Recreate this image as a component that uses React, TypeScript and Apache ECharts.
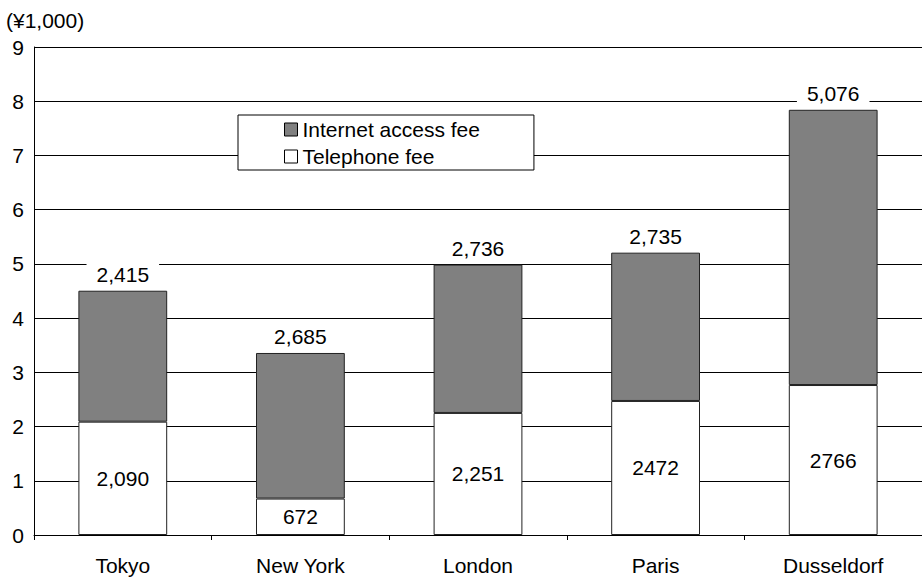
import React, { useEffect, useRef } from "react";
import * as echarts from "echarts";

const cities = ["Tokyo", "New York", "London", "Paris", "Dusseldorf"];
// Monthly fees in yen
const telephoneFee = [2090, 672, 2251, 2472, 2766];
const internetFee = [2415, 2685, 2736, 2735, 5076];
const telephoneLabels = ["2,090", "672", "2,251", "2472", "2766"];
const internetLabels = ["2,415", "2,685", "2,736", "2,735", "5,076"];
const yTicks = [0, 1, 2, 3, 4, 5, 6, 7, 8, 9];

const FONT = "'Liberation Sans', Arial, sans-serif";
const FS = 21;

export default function App() {
  const ref = useRef<HTMLDivElement>(null);
  useEffect(() => {
    if (!ref.current) return;
    const chart = echarts.init(ref.current, undefined, { renderer: "svg" });
    chart.setOption({
      animation: false,
      backgroundColor: "#fff",
      textStyle: { fontFamily: FONT, color: "#000" },
      graphic: [
        {
          type: "text",
          left: 6,
          top: 10,
          style: { text: "(¥1,000)", font: `${FS}px ${FONT}`, fill: "#000" },
        },
      ],
      legend: {
        orient: "vertical",
        left: 238,
        top: 115,
        backgroundColor: "#fff",
        borderColor: "#000",
        borderWidth: 1,
        borderRadius: 0,
        padding: [4, 54, 3, 46],
        itemGap: 6,
        itemWidth: 13,
        itemHeight: 13,
        icon: "rect",
        textStyle: { fontSize: FS, fontFamily: FONT, color: "#000" },
        data: [
          { name: "Internet access fee", itemStyle: { color: "#808080", borderColor: "#000", borderWidth: 1 } },
          { name: "Telephone fee", itemStyle: { color: "#fff", borderColor: "#000", borderWidth: 1 } },
        ],
      },
      grid: { left: 34, right: 0, top: 47, bottom: 45, containLabel: false },
      xAxis: {
        type: "category",
        data: cities,
        boundaryGap: true,
        axisLine: { lineStyle: { color: "#000", width: 1 } },
        axisTick: { show: true, length: 5, lineStyle: { color: "#000" } },
        axisLabel: { fontSize: FS, color: "#000", margin: 20, fontFamily: FONT },
      },
      yAxis: {
        type: "value",
        min: yTicks[0],
        max: yTicks[yTicks.length - 1],
        interval: 1,
        axisLine: { show: true, lineStyle: { color: "#000", width: 1 } },
        axisTick: { show: false },
        axisLabel: { fontSize: FS, color: "#000", margin: 10, fontFamily: FONT },
        splitLine: { lineStyle: { color: "#000", width: 1 } },
      },
      series: [
        {
          name: "Telephone fee",
          type: "bar",
          stack: "fee",
          barWidth: "50%",
          data: telephoneFee.map((v) => v / 1000),
          itemStyle: { color: "#fff", borderColor: "#222", borderWidth: 1 },
          label: {
            show: true,
            position: "inside",
            fontSize: FS,
            color: "#000",
            fontFamily: FONT,
            formatter: (p: any) => telephoneLabels[p.dataIndex],
          },
        },
        {
          name: "Internet access fee",
          type: "bar",
          stack: "fee",
          barWidth: "50%",
          data: internetFee.map((v) => v / 1000),
          itemStyle: { color: "#808080", borderColor: "#222", borderWidth: 1 },
          label: {
            show: true,
            position: "top",
            distance: 5,
            fontSize: FS,
            color: "#000",
            fontFamily: FONT,
            backgroundColor: "#fff",
            padding: [1, 10, 1, 10],
            formatter: (p: any) => internetLabels[p.dataIndex],
          },
        },
      ],
    });
    return () => chart.dispose();
  }, []);
  return (
    <div
      ref={ref}
      style={{ position: "fixed", left: 0, top: 0, width: 922, height: 580, background: "#fff" }}
    />
  );
}
